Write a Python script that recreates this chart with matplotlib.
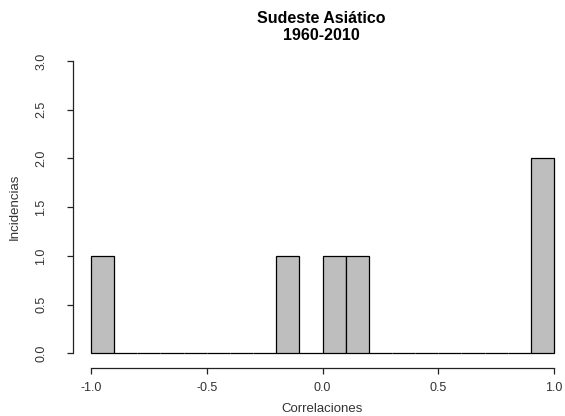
import numpy as np
import matplotlib
matplotlib.use("Agg")
import matplotlib.pyplot as plt

plt.rcParams['font.family'] = ['Liberation Sans', 'DejaVu Sans']

# histogram of correlations, breaks every 0.1 from -1 to 1
breaks = np.round(np.arange(-1.0, 1.0001, 0.1), 2)
counts = [1, 0, 0, 0, 0, 0, 0, 0, 1, 0, 1, 1, 0, 0, 0, 0, 0, 0, 0, 2]
xticks = [-1.0, -0.5, 0.0, 0.5, 1.0]
yticks = [0.0, 0.5, 1.0, 1.5, 2.0, 2.5, 3.0]

W, H = 565, 416
fig = plt.figure(figsize=(W / 100, H / 100), dpi=100)
# plot region in pixels
left, right, top, bottom = 72.5, 565, 49.3, 365
ax = fig.add_axes([left / W, 1 - bottom / H, (right - left) / W, (bottom - top) / H])

ax.bar(breaks[:-1], counts, width=0.1, align='edge', color='#bebebe',
       edgecolor='black', linewidth=0.9, joinstyle='miter')

ax.set_xlim(-1.08, -1 + (right - 91) / 231.5)
ax.set_ylim(-0.12, 3.12)

for s in ['top', 'right']:
    ax.spines[s].set_visible(False)
ax.spines['left'].set_bounds(0, 3)
ax.spines['bottom'].set_bounds(-1, 1)
ax.spines['bottom'].set_position(('outward', 2))
for s in ['left', 'bottom']:
    ax.spines[s].set_linewidth(0.9)
    ax.spines[s].set_color('#222222')

ax.set_xticks(xticks)
ax.set_xticklabels(['%.1f' % v for v in xticks])
ax.set_yticks(yticks)
ax.set_yticklabels(['%.1f' % v for v in yticks], rotation=90, va='center')
ax.tick_params(length=4, width=0.9, color='#222222', labelsize=9,
               labelcolor='#333333')
ax.tick_params(axis='x', pad=6)
ax.tick_params(axis='y', pad=14)

fig.text(322 / W, 1 - 409 / H, 'Correlaciones', ha='center', va='center',
         fontsize=9.5, color='#333333')
fig.text(15 / W, 1 - 207 / H, 'Incidencias', ha='center', va='center',
         rotation=90, fontsize=9.5, color='#333333')
fig.text(321 / W, 1 - 11 / H, 'Sudeste Asiático\n1960-2010', ha='center', va='top',
         fontsize=11.5, fontweight='bold', linespacing=1.15)

fig.savefig('out.png', dpi=100)
